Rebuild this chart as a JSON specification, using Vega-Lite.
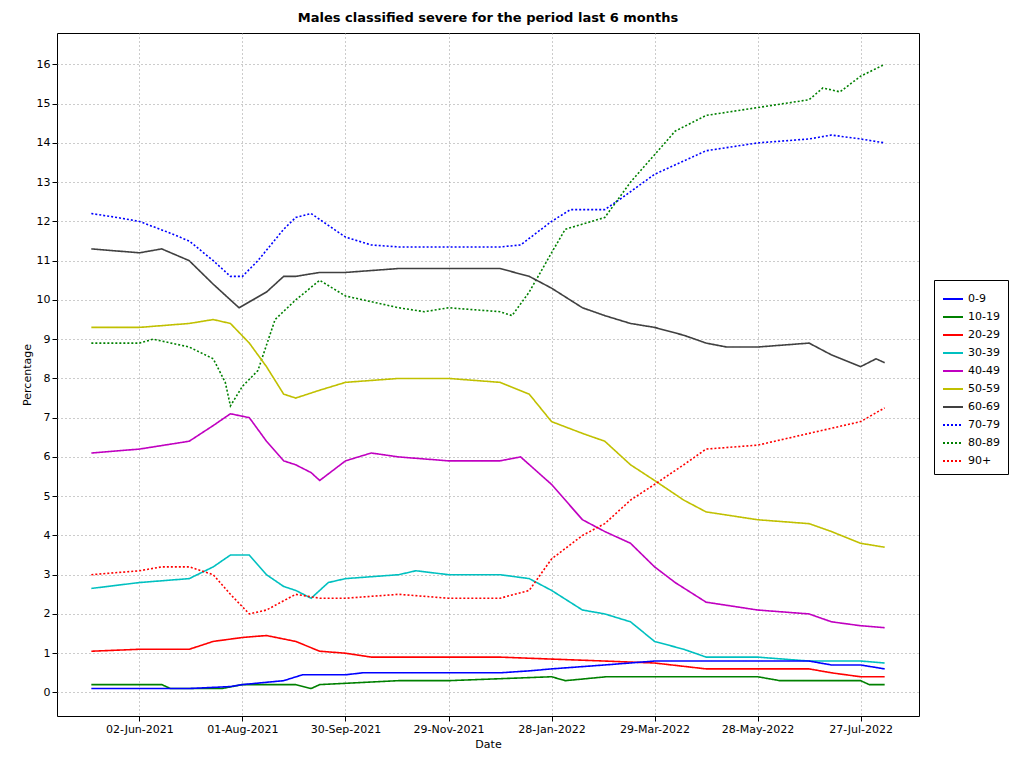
{
  "$schema": "https://vega.github.io/schema/vega-lite/v6.json",
  "autosize": "none",
  "width": 862,
  "height": 683,
  "padding": {"left": 57, "top": 33, "right": 105, "bottom": 52},
  "background": "white",
  "config": {
    "font": "DejaVu Sans",
    "view": {"stroke": "black", "strokeWidth": 1},
    "axis": {"grid": true, "gridDash": [1, 3], "gridColor": "#999999", "domain": false, "tickColor": "black", "labelColor": "black", "labelFontSize": 11, "titleFontSize": 11, "titleFontWeight": "normal", "titleColor": "black"}
  },
  "title": {"text": "Males classified severe for the period last 6 months", "fontSize": 13, "fontWeight": "bold", "offset": 8, "color": "black"},
  "data": {"values": [
    {"s":"70-79","d":"2021-05-05","v":12.2},{"s":"70-79","d":"2021-05-20","v":12.1},{"s":"70-79","d":"2021-06-02","v":12.0},{"s":"70-79","d":"2021-06-20","v":11.7},{"s":"70-79","d":"2021-07-01","v":11.5},{"s":"70-79","d":"2021-07-15","v":11.0},{"s":"70-79","d":"2021-07-25","v":10.6},{"s":"70-79","d":"2021-08-01","v":10.6},{"s":"70-79","d":"2021-08-10","v":11.0},{"s":"70-79","d":"2021-08-25","v":11.8},{"s":"70-79","d":"2021-09-01","v":12.1},{"s":"70-79","d":"2021-09-10","v":12.2},{"s":"70-79","d":"2021-09-20","v":11.9},{"s":"70-79","d":"2021-09-30","v":11.6},{"s":"70-79","d":"2021-10-15","v":11.4},{"s":"70-79","d":"2021-10-31","v":11.35},{"s":"70-79","d":"2021-11-29","v":11.35},{"s":"70-79","d":"2021-12-29","v":11.35},{"s":"70-79","d":"2022-01-10","v":11.4},{"s":"70-79","d":"2022-01-28","v":12.0},{"s":"70-79","d":"2022-02-08","v":12.3},{"s":"70-79","d":"2022-02-28","v":12.3},{"s":"70-79","d":"2022-03-10","v":12.6},{"s":"70-79","d":"2022-03-29","v":13.2},{"s":"70-79","d":"2022-04-28","v":13.8},{"s":"70-79","d":"2022-05-28","v":14.0},{"s":"70-79","d":"2022-06-27","v":14.1},{"s":"70-79","d":"2022-07-10","v":14.2},{"s":"70-79","d":"2022-07-27","v":14.1},{"s":"70-79","d":"2022-08-10","v":14.0},
    {"s":"80-89","d":"2021-05-05","v":8.9},{"s":"80-89","d":"2021-06-02","v":8.9},{"s":"80-89","d":"2021-06-10","v":9.0},{"s":"80-89","d":"2021-07-01","v":8.8},{"s":"80-89","d":"2021-07-15","v":8.5},{"s":"80-89","d":"2021-07-22","v":7.9},{"s":"80-89","d":"2021-07-25","v":7.3},{"s":"80-89","d":"2021-08-01","v":7.8},{"s":"80-89","d":"2021-08-10","v":8.2},{"s":"80-89","d":"2021-08-20","v":9.5},{"s":"80-89","d":"2021-09-01","v":10.0},{"s":"80-89","d":"2021-09-15","v":10.5},{"s":"80-89","d":"2021-09-30","v":10.1},{"s":"80-89","d":"2021-10-31","v":9.8},{"s":"80-89","d":"2021-11-15","v":9.7},{"s":"80-89","d":"2021-11-29","v":9.8},{"s":"80-89","d":"2021-12-29","v":9.7},{"s":"80-89","d":"2022-01-05","v":9.6},{"s":"80-89","d":"2022-01-15","v":10.2},{"s":"80-89","d":"2022-01-28","v":11.2},{"s":"80-89","d":"2022-02-05","v":11.8},{"s":"80-89","d":"2022-02-28","v":12.1},{"s":"80-89","d":"2022-03-15","v":13.0},{"s":"80-89","d":"2022-03-29","v":13.7},{"s":"80-89","d":"2022-04-10","v":14.3},{"s":"80-89","d":"2022-04-28","v":14.7},{"s":"80-89","d":"2022-05-28","v":14.9},{"s":"80-89","d":"2022-06-27","v":15.1},{"s":"80-89","d":"2022-07-05","v":15.4},{"s":"80-89","d":"2022-07-15","v":15.3},{"s":"80-89","d":"2022-07-27","v":15.7},{"s":"80-89","d":"2022-08-10","v":16.0},
    {"s":"60-69","d":"2021-05-05","v":11.3},{"s":"60-69","d":"2021-06-02","v":11.2},{"s":"60-69","d":"2021-06-15","v":11.3},{"s":"60-69","d":"2021-07-01","v":11.0},{"s":"60-69","d":"2021-07-15","v":10.4},{"s":"60-69","d":"2021-07-30","v":9.8},{"s":"60-69","d":"2021-08-15","v":10.2},{"s":"60-69","d":"2021-08-25","v":10.6},{"s":"60-69","d":"2021-09-01","v":10.6},{"s":"60-69","d":"2021-09-15","v":10.7},{"s":"60-69","d":"2021-09-30","v":10.7},{"s":"60-69","d":"2021-10-31","v":10.8},{"s":"60-69","d":"2021-11-29","v":10.8},{"s":"60-69","d":"2021-12-29","v":10.8},{"s":"60-69","d":"2022-01-15","v":10.6},{"s":"60-69","d":"2022-01-28","v":10.3},{"s":"60-69","d":"2022-02-15","v":9.8},{"s":"60-69","d":"2022-02-28","v":9.6},{"s":"60-69","d":"2022-03-15","v":9.4},{"s":"60-69","d":"2022-03-29","v":9.3},{"s":"60-69","d":"2022-04-15","v":9.1},{"s":"60-69","d":"2022-04-28","v":8.9},{"s":"60-69","d":"2022-05-10","v":8.8},{"s":"60-69","d":"2022-05-28","v":8.8},{"s":"60-69","d":"2022-06-27","v":8.9},{"s":"60-69","d":"2022-07-10","v":8.6},{"s":"60-69","d":"2022-07-27","v":8.3},{"s":"60-69","d":"2022-08-05","v":8.5},{"s":"60-69","d":"2022-08-10","v":8.4},
    {"s":"50-59","d":"2021-05-05","v":9.3},{"s":"50-59","d":"2021-06-02","v":9.3},{"s":"50-59","d":"2021-07-01","v":9.4},{"s":"50-59","d":"2021-07-15","v":9.5},{"s":"50-59","d":"2021-07-25","v":9.4},{"s":"50-59","d":"2021-08-05","v":8.9},{"s":"50-59","d":"2021-08-15","v":8.3},{"s":"50-59","d":"2021-08-25","v":7.6},{"s":"50-59","d":"2021-09-01","v":7.5},{"s":"50-59","d":"2021-09-15","v":7.7},{"s":"50-59","d":"2021-09-30","v":7.9},{"s":"50-59","d":"2021-10-31","v":8.0},{"s":"50-59","d":"2021-11-29","v":8.0},{"s":"50-59","d":"2021-12-29","v":7.9},{"s":"50-59","d":"2022-01-15","v":7.6},{"s":"50-59","d":"2022-01-28","v":6.9},{"s":"50-59","d":"2022-02-15","v":6.6},{"s":"50-59","d":"2022-02-28","v":6.4},{"s":"50-59","d":"2022-03-15","v":5.8},{"s":"50-59","d":"2022-03-29","v":5.4},{"s":"50-59","d":"2022-04-15","v":4.9},{"s":"50-59","d":"2022-04-28","v":4.6},{"s":"50-59","d":"2022-05-28","v":4.4},{"s":"50-59","d":"2022-06-27","v":4.3},{"s":"50-59","d":"2022-07-10","v":4.1},{"s":"50-59","d":"2022-07-27","v":3.8},{"s":"50-59","d":"2022-08-10","v":3.7},
    {"s":"40-49","d":"2021-05-05","v":6.1},{"s":"40-49","d":"2021-06-02","v":6.2},{"s":"40-49","d":"2021-07-01","v":6.4},{"s":"40-49","d":"2021-07-15","v":6.8},{"s":"40-49","d":"2021-07-25","v":7.1},{"s":"40-49","d":"2021-08-05","v":7.0},{"s":"40-49","d":"2021-08-15","v":6.4},{"s":"40-49","d":"2021-08-25","v":5.9},{"s":"40-49","d":"2021-09-01","v":5.8},{"s":"40-49","d":"2021-09-10","v":5.6},{"s":"40-49","d":"2021-09-15","v":5.4},{"s":"40-49","d":"2021-09-30","v":5.9},{"s":"40-49","d":"2021-10-15","v":6.1},{"s":"40-49","d":"2021-10-31","v":6.0},{"s":"40-49","d":"2021-11-29","v":5.9},{"s":"40-49","d":"2021-12-29","v":5.9},{"s":"40-49","d":"2022-01-10","v":6.0},{"s":"40-49","d":"2022-01-28","v":5.3},{"s":"40-49","d":"2022-02-15","v":4.4},{"s":"40-49","d":"2022-02-28","v":4.1},{"s":"40-49","d":"2022-03-15","v":3.8},{"s":"40-49","d":"2022-03-29","v":3.2},{"s":"40-49","d":"2022-04-10","v":2.8},{"s":"40-49","d":"2022-04-28","v":2.3},{"s":"40-49","d":"2022-05-28","v":2.1},{"s":"40-49","d":"2022-06-27","v":2.0},{"s":"40-49","d":"2022-07-10","v":1.8},{"s":"40-49","d":"2022-07-27","v":1.7},{"s":"40-49","d":"2022-08-10","v":1.65},
    {"s":"30-39","d":"2021-05-05","v":2.65},{"s":"30-39","d":"2021-06-02","v":2.8},{"s":"30-39","d":"2021-07-01","v":2.9},{"s":"30-39","d":"2021-07-15","v":3.2},{"s":"30-39","d":"2021-07-25","v":3.5},{"s":"30-39","d":"2021-08-05","v":3.5},{"s":"30-39","d":"2021-08-15","v":3.0},{"s":"30-39","d":"2021-08-25","v":2.7},{"s":"30-39","d":"2021-09-01","v":2.6},{"s":"30-39","d":"2021-09-10","v":2.4},{"s":"30-39","d":"2021-09-20","v":2.8},{"s":"30-39","d":"2021-09-30","v":2.9},{"s":"30-39","d":"2021-10-31","v":3.0},{"s":"30-39","d":"2021-11-10","v":3.1},{"s":"30-39","d":"2021-11-29","v":3.0},{"s":"30-39","d":"2021-12-29","v":3.0},{"s":"30-39","d":"2022-01-15","v":2.9},{"s":"30-39","d":"2022-01-28","v":2.6},{"s":"30-39","d":"2022-02-15","v":2.1},{"s":"30-39","d":"2022-02-28","v":2.0},{"s":"30-39","d":"2022-03-15","v":1.8},{"s":"30-39","d":"2022-03-29","v":1.3},{"s":"30-39","d":"2022-04-15","v":1.1},{"s":"30-39","d":"2022-04-28","v":0.9},{"s":"30-39","d":"2022-05-28","v":0.9},{"s":"30-39","d":"2022-06-27","v":0.8},{"s":"30-39","d":"2022-07-27","v":0.8},{"s":"30-39","d":"2022-08-10","v":0.75},
    {"s":"90+","d":"2021-05-05","v":3.0},{"s":"90+","d":"2021-06-02","v":3.1},{"s":"90+","d":"2021-06-15","v":3.2},{"s":"90+","d":"2021-07-01","v":3.2},{"s":"90+","d":"2021-07-15","v":3.0},{"s":"90+","d":"2021-07-25","v":2.5},{"s":"90+","d":"2021-08-05","v":2.0},{"s":"90+","d":"2021-08-15","v":2.1},{"s":"90+","d":"2021-09-01","v":2.5},{"s":"90+","d":"2021-09-15","v":2.4},{"s":"90+","d":"2021-09-30","v":2.4},{"s":"90+","d":"2021-10-31","v":2.5},{"s":"90+","d":"2021-11-29","v":2.4},{"s":"90+","d":"2021-12-29","v":2.4},{"s":"90+","d":"2022-01-15","v":2.6},{"s":"90+","d":"2022-01-28","v":3.4},{"s":"90+","d":"2022-02-15","v":4.0},{"s":"90+","d":"2022-02-28","v":4.3},{"s":"90+","d":"2022-03-15","v":4.9},{"s":"90+","d":"2022-03-29","v":5.3},{"s":"90+","d":"2022-04-15","v":5.8},{"s":"90+","d":"2022-04-28","v":6.2},{"s":"90+","d":"2022-05-28","v":6.3},{"s":"90+","d":"2022-06-27","v":6.6},{"s":"90+","d":"2022-07-27","v":6.9},{"s":"90+","d":"2022-08-10","v":7.25},
    {"s":"20-29","d":"2021-05-05","v":1.05},{"s":"20-29","d":"2021-06-02","v":1.1},{"s":"20-29","d":"2021-07-01","v":1.1},{"s":"20-29","d":"2021-07-15","v":1.3},{"s":"20-29","d":"2021-08-01","v":1.4},{"s":"20-29","d":"2021-08-15","v":1.45},{"s":"20-29","d":"2021-09-01","v":1.3},{"s":"20-29","d":"2021-09-15","v":1.05},{"s":"20-29","d":"2021-09-30","v":1.0},{"s":"20-29","d":"2021-10-15","v":0.9},{"s":"20-29","d":"2021-11-29","v":0.9},{"s":"20-29","d":"2021-12-29","v":0.9},{"s":"20-29","d":"2022-01-28","v":0.85},{"s":"20-29","d":"2022-02-28","v":0.8},{"s":"20-29","d":"2022-03-29","v":0.75},{"s":"20-29","d":"2022-04-28","v":0.6},{"s":"20-29","d":"2022-05-28","v":0.6},{"s":"20-29","d":"2022-06-27","v":0.6},{"s":"20-29","d":"2022-07-10","v":0.5},{"s":"20-29","d":"2022-07-27","v":0.4},{"s":"20-29","d":"2022-08-10","v":0.4},
    {"s":"10-19","d":"2021-05-05","v":0.2},{"s":"10-19","d":"2021-06-15","v":0.2},{"s":"10-19","d":"2021-06-20","v":0.1},{"s":"10-19","d":"2021-07-20","v":0.1},{"s":"10-19","d":"2021-08-01","v":0.2},{"s":"10-19","d":"2021-09-01","v":0.2},{"s":"10-19","d":"2021-09-10","v":0.1},{"s":"10-19","d":"2021-09-15","v":0.2},{"s":"10-19","d":"2021-10-31","v":0.3},{"s":"10-19","d":"2021-11-29","v":0.3},{"s":"10-19","d":"2021-12-29","v":0.35},{"s":"10-19","d":"2022-01-28","v":0.4},{"s":"10-19","d":"2022-02-05","v":0.3},{"s":"10-19","d":"2022-03-01","v":0.4},{"s":"10-19","d":"2022-03-29","v":0.4},{"s":"10-19","d":"2022-04-28","v":0.4},{"s":"10-19","d":"2022-05-28","v":0.4},{"s":"10-19","d":"2022-06-10","v":0.3},{"s":"10-19","d":"2022-06-27","v":0.3},{"s":"10-19","d":"2022-07-27","v":0.3},{"s":"10-19","d":"2022-08-01","v":0.2},{"s":"10-19","d":"2022-08-10","v":0.2},
    {"s":"0-9","d":"2021-05-05","v":0.1},{"s":"0-9","d":"2021-06-02","v":0.1},{"s":"0-9","d":"2021-07-01","v":0.1},{"s":"0-9","d":"2021-07-25","v":0.15},{"s":"0-9","d":"2021-08-01","v":0.2},{"s":"0-9","d":"2021-08-25","v":0.3},{"s":"0-9","d":"2021-09-05","v":0.45},{"s":"0-9","d":"2021-09-30","v":0.45},{"s":"0-9","d":"2021-10-10","v":0.5},{"s":"0-9","d":"2021-11-29","v":0.5},{"s":"0-9","d":"2021-12-29","v":0.5},{"s":"0-9","d":"2022-01-15","v":0.55},{"s":"0-9","d":"2022-01-28","v":0.6},{"s":"0-9","d":"2022-02-28","v":0.7},{"s":"0-9","d":"2022-03-29","v":0.8},{"s":"0-9","d":"2022-04-28","v":0.8},{"s":"0-9","d":"2022-05-28","v":0.8},{"s":"0-9","d":"2022-06-27","v":0.8},{"s":"0-9","d":"2022-07-10","v":0.7},{"s":"0-9","d":"2022-07-27","v":0.7},{"s":"0-9","d":"2022-08-10","v":0.6}
  ]},
  "mark": {"type": "line", "strokeWidth": 1.6},
  "encoding": {
    "x": {
      "field": "d", "type": "temporal", "title": "Date",
      "scale": {"type": "utc", "domain": [{"year": 2021, "month": 4, "date": 15, "utc": true}, {"year": 2022, "month": 8, "date": 30, "utc": true}]},
      "axis": {"format": "%d-%b-%Y", "labelAngle": 0,
        "values": [
          {"year": 2021, "month": 6, "date": 2, "utc": true},
          {"year": 2021, "month": 8, "date": 1, "utc": true},
          {"year": 2021, "month": 9, "date": 30, "utc": true},
          {"year": 2021, "month": 11, "date": 29, "utc": true},
          {"year": 2022, "month": 1, "date": 28, "utc": true},
          {"year": 2022, "month": 3, "date": 29, "utc": true},
          {"year": 2022, "month": 5, "date": 28, "utc": true},
          {"year": 2022, "month": 7, "date": 27, "utc": true}
        ]}
    },
    "y": {
      "field": "v", "type": "quantitative", "title": "Percentage",
      "scale": {"domain": [-0.6, 16.8], "nice": false, "zero": false},
      "axis": {"values": [0,1,2,3,4,5,6,7,8,9,10,11,12,13,14,15,16]}
    },
    "color": {
      "field": "s", "type": "nominal", "title": null,
      "scale": {
        "domain": ["0-9","10-19","20-29","30-39","40-49","50-59","60-69","70-79","80-89","90+"],
        "range": ["#0000ff","#008000","#ff0000","#00c0c0","#c000c0","#c0c000","#404040","#0000ff","#008000","#ff0000"]
      },
      "legend": {"orient": "none", "legendX": 877, "legendY": 247, "symbolType": "stroke", "symbolSize": 400, "symbolStrokeWidth": 2, "labelFontSize": 11, "strokeColor": "black", "padding": 8, "fillColor": "white", "rowPadding": 2}
    },
    "strokeDash": {
      "field": "s", "type": "nominal", "title": null,
      "scale": {
        "domain": ["0-9","10-19","20-29","30-39","40-49","50-59","60-69","70-79","80-89","90+"],
        "range": [[1,0],[1,0],[1,0],[1,0],[1,0],[1,0],[1,0],[2,2],[2,2],[2,2]]
      },
      "legend": {"orient": "none", "legendX": 877, "legendY": 247, "symbolType": "stroke", "symbolSize": 400, "symbolStrokeWidth": 2, "labelFontSize": 11, "strokeColor": "black", "padding": 8, "fillColor": "white", "rowPadding": 2}
    }
  }
}
